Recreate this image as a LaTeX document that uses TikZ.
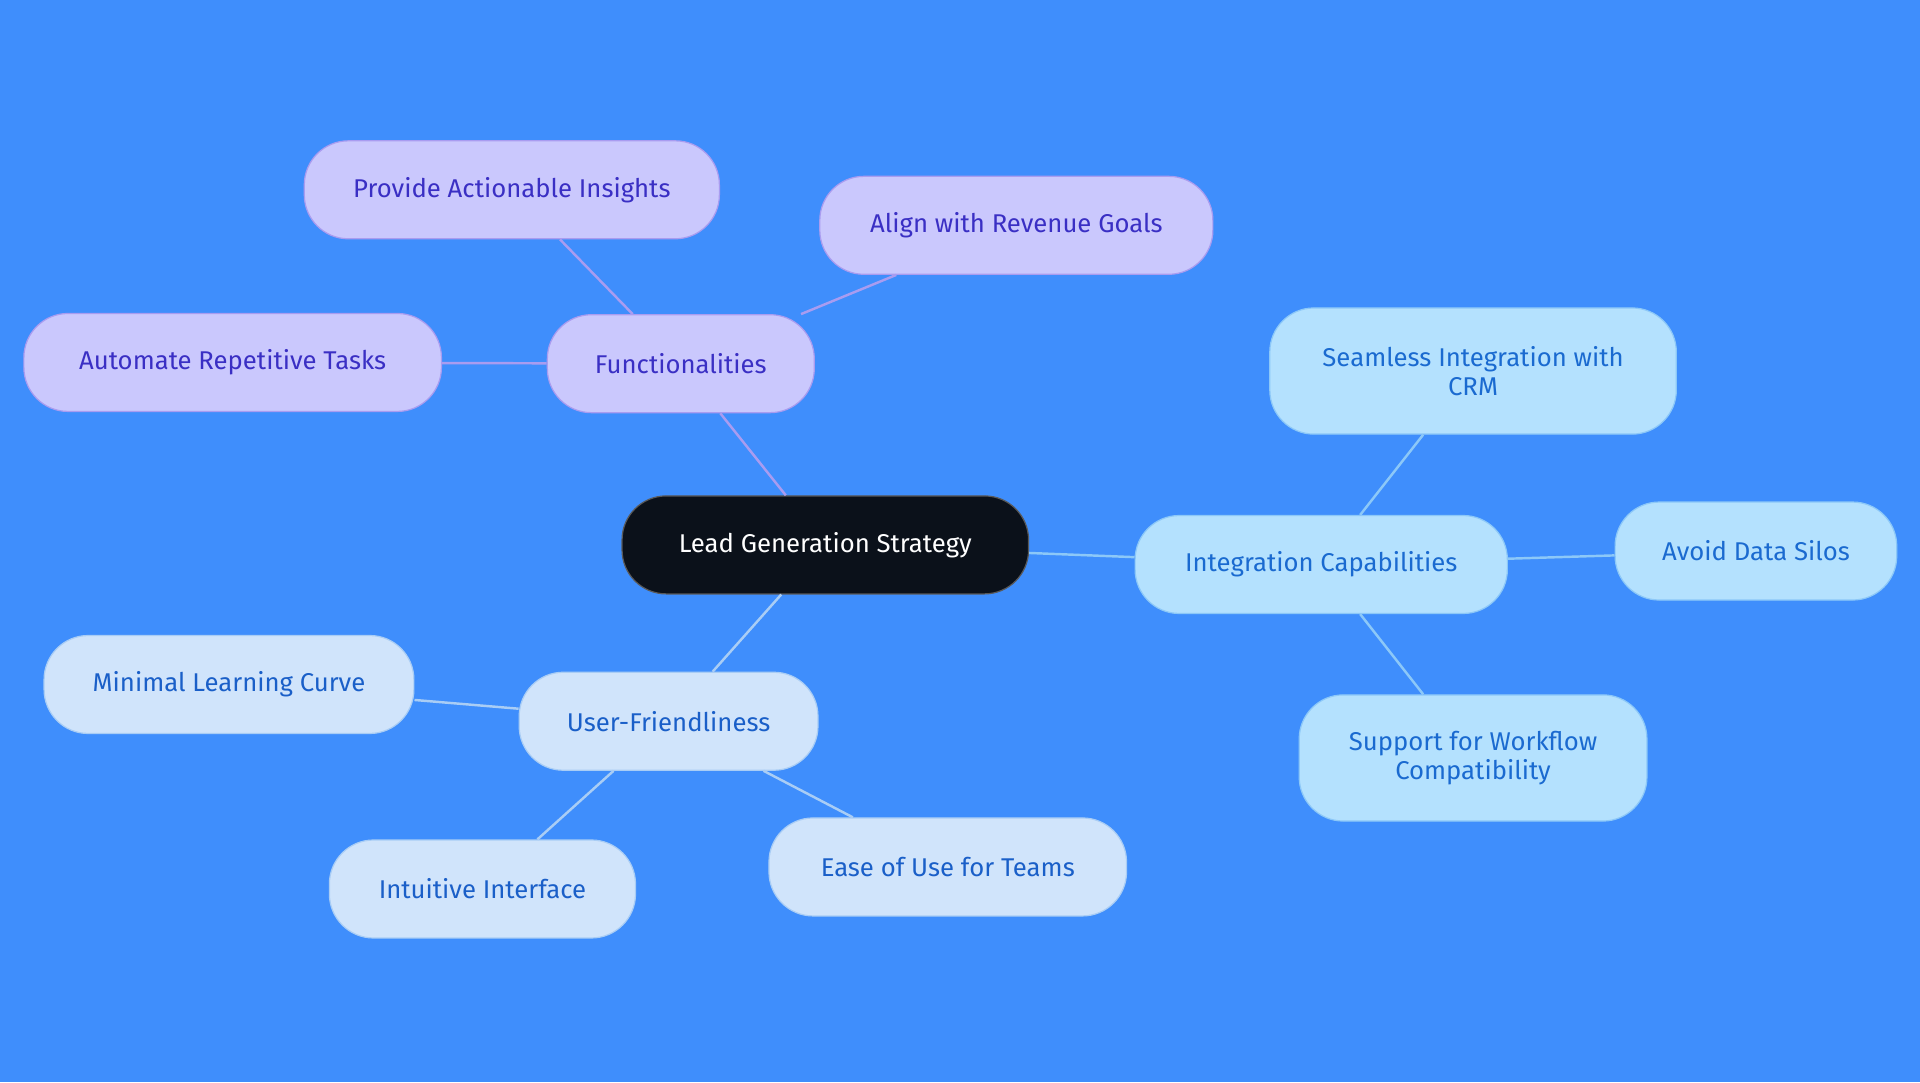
\documentclass[tikz,border=0pt]{standalone}
\usepackage{fontspec}
\setmainfont{Fira Sans}
\usepackage{xcolor}
\definecolor{bgblue}{HTML}{3F8EFC}
\definecolor{rootfill}{HTML}{0B111A}
\definecolor{lavfill}{HTML}{CAC8FD}
\definecolor{lavtext}{HTML}{3A2FC4}
\definecolor{lavline}{HTML}{A99CF0}
\definecolor{skyfill}{HTML}{B4E1FE}
\definecolor{skytext}{HTML}{1A6AD0}
\definecolor{skyline}{HTML}{8CC8F8}
\definecolor{palefill}{HTML}{D0E4FB}
\definecolor{paletext}{HTML}{1A5FC8}
\definecolor{paleline}{HTML}{A9CDF5}
\tikzset{
	base node/.style={rounded corners=36pt,minimum height=80pt,align=center,
		font=\fontsize{21}{24}\selectfont,line width=1pt,inner sep=0pt},
	root node/.style={base node,fill=rootfill,draw=gray!70!black,text=white},
	lav node/.style={base node,fill=lavfill,draw=lavline,text=lavtext},
	sky node/.style={base node,fill=skyfill,draw=skyline,text=skytext},
	pale node/.style={base node,fill=palefill,draw=paleline,text=paletext},
	lav edge/.style={draw=lavline,line width=2pt},
	sky edge/.style={draw=skyline,line width=2pt},
	pale edge/.style={draw=paleline,line width=2pt}
}
\begin{document}
\begin{tikzpicture}[x=1pt,y=-1pt]
	\fill[bgblue] (0,0) rectangle (1568,884);
	\useasboundingbox (0,0) rectangle (1568,884);
	% root
	\node [root node,minimum width=332pt] (lead) at (674,445) {Lead Generation Strategy};
	% functionalities
	\node [lav node,minimum width=218pt] (func) at (556,297) {Functionalities};
	\node [lav node,minimum width=339pt] (insights) at (418,155) {Provide Actionable Insights};
	\node [lav node,minimum width=321pt] (revenue) at (830,184) {Align with Revenue Goals};
	\node [lav node,minimum width=341pt] (automate) at (190,296) {Automate Repetitive Tasks};
	% integration
	\node [sky node,minimum width=304pt] (integ) at (1079,461) {Integration Capabilities};
	\node [sky node,minimum width=332pt,minimum height=103pt] (crm) at (1203,303) {Seamless Integration with\\CRM};
	\node [sky node,minimum width=230pt] (silos) at (1434,450) {Avoid Data Silos};
	\node [sky node,minimum width=284pt,minimum height=103pt] (workflow) at (1203,619) {Support for Workflow\\Compatibility};
	% user-friendliness
	\node [pale node,minimum width=244pt] (user) at (546,589) {User-Friendliness};
	\node [pale node,minimum width=302pt] (curve) at (187,559) {Minimal Learning Curve};
	\node [pale node,minimum width=250pt] (intuitive) at (394,726) {Intuitive Interface};
	\node [pale node,minimum width=292pt] (ease) at (774,708) {Ease of Use for Teams};
	% connectors
	\begin{scope}[on background layer/.style={}]
	\draw [lav edge] (lead) -- (func);
	\draw [lav edge] (func) -- (insights);
	\draw [lav edge] (func) -- (revenue);
	\draw [lav edge] (func) -- (automate);
	\draw [sky edge] (lead) -- (integ);
	\draw [sky edge] (integ) -- (crm);
	\draw [sky edge] (integ) -- (silos);
	\draw [sky edge] (integ) -- (workflow);
	\draw [pale edge] (lead) -- (user);
	\draw [pale edge] (user) -- (curve);
	\draw [pale edge] (user) -- (intuitive);
	\draw [pale edge] (user) -- (ease);
	\end{scope}
\end{tikzpicture}
\end{document}
